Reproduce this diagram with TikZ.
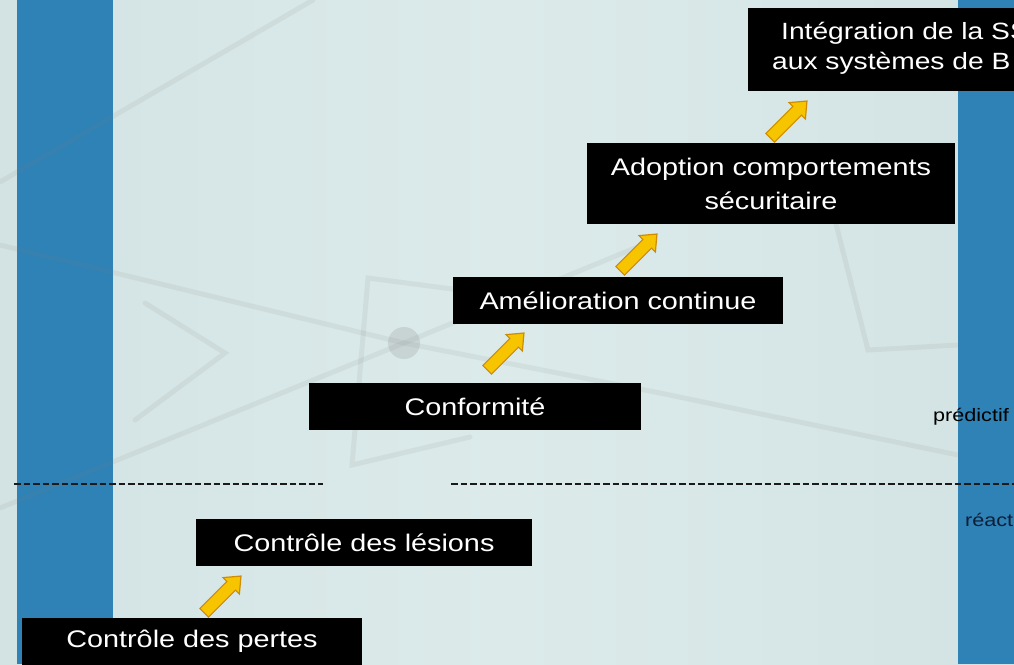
\documentclass[tikz,border=0pt]{standalone}
\usepackage{fontspec}
\setmainfont{Liberation Sans}
\newfontfamily\widefont[FakeStretch=1.2]{Liberation Sans}
\usetikzlibrary{shapes.arrows}
\definecolor{bgA}{HTML}{D3E3E3}
\definecolor{bgB}{HTML}{DCEAEA}
\definecolor{barblue}{HTML}{2E82B6}
\definecolor{arrowyellow}{HTML}{F6C500}
\definecolor{arroworange}{HTML}{CF8C00}
\definecolor{navy}{HTML}{0E1E38}
\definecolor{dashcol}{HTML}{1A1A1A}
\begin{document}
\begin{tikzpicture}[x=1pt,y=-1pt,
  stepbox/.style={fill=black, text=white, inner sep=0pt, align=center,
    font=\widefont\fontsize{24}{34}\selectfont},
  boxtext/.style={text=white, inner sep=0pt, font=\widefont\fontsize{23.5}{30}\selectfont},
  blockarr/.style={single arrow, fill=arrowyellow, draw=arroworange, line width=1.2pt,
    minimum height=52pt, minimum width=0pt, inner xsep=0pt, inner ysep=5.5pt,
    single arrow head extend=5.5pt, single arrow tip angle=80, rotate=45},
  bgline/.style={line width=5pt, draw=gray, opacity=0.10, line cap=round},
  sidelabel/.style={inner sep=0pt, font=\widefont\fontsize{18}{20}\selectfont},
  divider/.style={draw=dashcol, line width=2.8pt, dash pattern=on 6.5pt off 3pt}]
\useasboundingbox (0,0) rectangle (1014,664);
\clip (0,0) rectangle (1014,664);
% background
\shade[left color=bgA, right color=bgA, middle color=bgB] (0,0) rectangle (1014,664);
% side bars
\fill[barblue] (17,0) rectangle (113,664);
\fill[barblue] (958,0) rectangle (1014,664);
% faint background lines
\draw[bgline] (0,182) -- (313,0);
\draw[bgline] (0,245) -- (404,343) -- (660,393) -- (958,455);
\draw[bgline] (0,508) -- (404,343) -- (640,246);
\draw[bgline] (145,303) -- (225,353) -- (135,420);
\draw[bgline] (460,290) -- (368,278) -- (352,465) -- (470,437);
\draw[bgline] (835,220) -- (868,350) -- (958,345);
\fill[gray, opacity=0.2] (404,343) circle (16pt);
% dividers
\coordinate (dl1) at (14,484);
\coordinate (dl2) at (323,484);
\coordinate (dr1) at (451,484);
\coordinate (dr2) at (1014,484);
\draw[divider] (dl1) -- (dl2);
\draw[divider] (dr1) -- (dr2);
% side labels
\node[sidelabel, anchor=base west] (pred) at (933,421) {prédictif};
\node[sidelabel, anchor=base west, text=navy] (react) at (965,526) {réact};
% step boxes
\node[stepbox, minimum width=340pt, minimum height=47pt] (pertes) at (192,641.5) {Contrôle des pertes};
\node[stepbox, minimum width=336pt, minimum height=47pt] (lesions) at (364,542.5) {Contrôle des lésions};
\node[stepbox, minimum width=332pt, minimum height=47pt] (conf) at (475,406.5) {Conformité};
\node[stepbox, minimum width=330pt, minimum height=47pt] (amel) at (618,300.5) {Amélioration continue};
\node[stepbox, minimum width=368pt, minimum height=81pt] (adopt) at (771,183.5) {Adoption comportements\\sécuritaire};
\node[stepbox, anchor=north west, minimum width=300pt, minimum height=83pt] (integ) at (748,8) {};
\node[boxtext, anchor=base west] (integA) at (781,39.5) {Intégration de la SS};
\node[boxtext, anchor=base west] (integB) at (772,69) {aux systèmes de B};
% yellow block arrows
\node[blockarr] (ar1) at (220,597) {};
\node[blockarr] (ar2) at (503,354) {};
\node[blockarr] (ar3) at (636,255) {};
\node[blockarr] (ar4) at (786,122) {};
\end{tikzpicture}
\end{document}
